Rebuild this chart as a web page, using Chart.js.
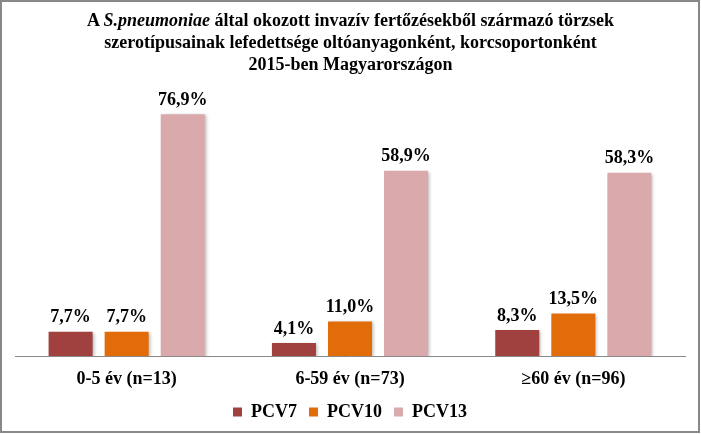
<!DOCTYPE html>
<html>
<head>
<meta charset="utf-8">
<script src="https://cdn.jsdelivr.net/npm/chart.js@4/dist/chart.umd.min.js"></script>
<style>
  body { margin: 0; background: #fff; }
  #wrap { position: relative; width: 701px; height: 434px; }
  #frame { position: absolute; left: 0; top: 0; width: 700px; height: 433px; box-sizing: border-box; border: 2px solid #888; pointer-events: none; }
  #title { position: absolute; left: 0; top: 9px; width: 701px; text-align: center; font: bold 18px "Liberation Serif", "Times New Roman", serif; line-height: 22px; color: #000; }
  canvas { position: absolute; left: 0; top: 0; }
</style>
</head>
<body>
<div id="wrap">
  <canvas id="mycanvas" width="701" height="434"></canvas>
  <div id="title">A <i>S.pneumoniae</i> által okozott invazív fertőzésekből származó törzsek<br>szerotípusainak lefedettsége oltóanyagonként, korcsoportonként<br>2015-ben Magyarországon</div>
  <div id="frame"></div>
</div>
<script>
var categories = ["0-5 év (n=13)", "6-59 év (n=73)", "\u226560 év (n=96)"];
var pcv7 = [7.7, 4.1, 8.3];
var pcv10 = [7.7, 11.0, 13.5];
var pcv13 = [76.9, 58.9, 58.3];

var serif = "'Liberation Serif', 'Times New Roman', serif";

// value labels above the bars, with comma decimals
var valueLabels = {
  id: 'valueLabels',
  beforeDatasetsDraw: function(chart) {
    var ctx = chart.ctx;
    ctx.save();
    ctx.shadowColor = 'rgba(0,0,0,0.25)';
    ctx.shadowOffsetX = 2;
    ctx.shadowOffsetY = 1;
    ctx.shadowBlur = 3;
  },
  afterDatasetsDraw: function(chart) {
    var ctx = chart.ctx;
    ctx.restore();
    ctx.save();
    ctx.font = 'bold 18px ' + serif;
    ctx.fillStyle = '#000';
    ctx.textAlign = 'center';
    ctx.textBaseline = 'bottom';
    chart.data.datasets.forEach(function(ds, i) {
      var meta = chart.getDatasetMeta(i);
      meta.data.forEach(function(bar, j) {
        var txt = ds.data[j].toFixed(1).replace('.', ',') + '%';
        ctx.fillText(txt, bar.x, bar.y - 5);
      });
    });
    ctx.restore();
  }
};

var ctx = document.getElementById('mycanvas');

var chart = new Chart(ctx, {
  type: 'bar',
  data: {
    labels: categories,
    datasets: [
      { label: 'PCV7', data: pcv7, backgroundColor: '#A0403F' },
      { label: 'PCV10', data: pcv10, backgroundColor: '#E36C0A' },
      { label: 'PCV13', data: pcv13, backgroundColor: '#D9A9AB' }
    ]
  },
  options: {
    responsive: false,
    animation: false,
    devicePixelRatio: 1,
    categoryPercentage: 0.753,
    barPercentage: 0.786,
    layout: { padding: { top: 73, left: 15, right: 16, bottom: 3 } },
    plugins: {
      title: { display: false },
      tooltip: { enabled: false },
      legend: {
        position: 'bottom',
        labels: {
          boxWidth: 9,
          boxHeight: 9,
          padding: 12,
          color: '#000',
          font: { family: serif, size: 18, weight: 'bold' }
        }
      }
    },
    scales: {
      x: {
        grid: { display: false, drawTicks: false },
        border: { display: true, color: '#888', width: 1 },
        ticks: { color: '#000', padding: 13, font: { family: serif, size: 18, weight: 'bold' } },
        afterFit: function(scale) { scale.height = 35; }
      },
      y: {
        display: false,
        min: 0,
        max: 90
      }
    }
  },
  plugins: [valueLabels]
});
</script>
</body>
</html>
